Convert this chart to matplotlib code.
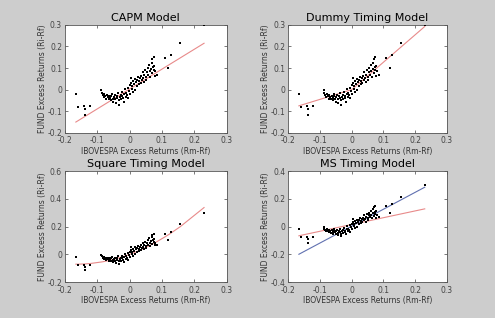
import numpy as np
import matplotlib.pyplot as plt

# market excess returns (Rm-Rf) and fund excess returns (Ri-Rf)
rm = [-0.166, -0.160, -0.140, -0.138, -0.137, -0.121, 0.230, 0.156, 0.127, 0.109,
      0.120, 0.075, 0.070,
      -0.087, -0.086, -0.083, -0.080, -0.078, -0.075, -0.072, -0.070, -0.068, -0.065,
      -0.063, -0.060, -0.058, -0.056, -0.054, -0.052, -0.050, -0.048, -0.046, -0.044,
      -0.042, -0.040, -0.038, -0.036, -0.034, -0.032, -0.030, -0.028, -0.026, -0.024,
      -0.022, -0.020, -0.018, -0.016, -0.014, -0.012, -0.010, -0.008, -0.006, -0.004,
      -0.002, 0.000, 0.002, 0.004, 0.006, 0.008, 0.010, 0.012, 0.014, 0.016, 0.018,
      0.020, 0.022, 0.024, 0.026, 0.028, 0.030, 0.032, 0.034, 0.036, 0.038, 0.040,
      0.042, 0.044, 0.046, 0.048, 0.050, 0.052, 0.054, 0.056, 0.058, 0.060, 0.062,
      0.064, 0.066, 0.068, 0.070, 0.072, 0.074, 0.076, 0.078, 0.080, 0.085, 0.004]
ri = [-0.020, -0.078, -0.074, -0.090, -0.115, -0.074, 0.297, 0.215, 0.160, 0.145,
      0.100, 0.150, 0.140,
      -0.003, -0.015, -0.025, -0.035, -0.020, -0.030, -0.042, -0.025, -0.035, -0.045,
      -0.028, -0.038, -0.050, -0.030, -0.020, -0.042, -0.055, -0.035, -0.025, -0.045,
      -0.060, -0.030, -0.040, -0.015, -0.070, -0.050, -0.035, -0.025, -0.045, -0.010,
      -0.030, -0.040, -0.055, -0.020, 0.005, -0.035, -0.015, -0.025, 0.010, -0.040,
      -0.005, 0.020, -0.020, 0.030, 0.005, 0.015, -0.010, 0.040, 0.025, 0.000, 0.050,
      0.035, 0.015, 0.045, 0.060, 0.025, 0.040, 0.055, 0.030, 0.065, 0.045, 0.080,
      0.055, 0.035, 0.070, 0.090, 0.060, 0.045, 0.080, 0.100, 0.070, 0.115, 0.085,
      0.060, 0.095, 0.125, 0.075, 0.105, 0.090, 0.110, 0.065, 0.085, 0.070, 0.053]

titles = ['CAPM Model', 'Dummy Timing Model', 'Square Timing Model', 'MS Timing Model']
ylims = [(-0.2, 0.3), (-0.2, 0.3), (-0.2, 0.6), (-0.4, 0.4)]
yticks = [[-0.2, -0.1, 0, 0.1, 0.2, 0.3], [-0.2, -0.1, 0, 0.1, 0.2, 0.3],
          [-0.2, 0, 0.2, 0.4, 0.6], [-0.4, -0.2, 0, 0.2, 0.4]]
xticks = [-0.2, -0.1, 0, 0.1, 0.2, 0.3]

# fitted coefficients
capm = (0.003, 0.92)
dummy = (0.0, 0.45, 0.82)
square = (0.0, 0.863, 2.62)
ms_low = (0.015, 0.49)
ms_high = (0.003, 1.22)

x = np.sort(np.array(rm))
bg = '#cdcdcd'
fig = plt.figure(figsize=(4.95, 3.18), dpi=100, facecolor=bg)
pos = [[0.131, 0.582, 0.327, 0.340], [0.582, 0.582, 0.321, 0.340],
       [0.131, 0.113, 0.327, 0.349], [0.582, 0.113, 0.321, 0.349]]

pink = '#e88a8a'
for i in range(4):
    ax = fig.add_axes(pos[i])
    ax.scatter(rm, ri, s=4, c='black', marker='s', linewidths=0, zorder=3)
    if i == 0:
        ax.plot(x, capm[0] + capm[1] * x, color=pink, lw=0.8)
    elif i == 1:
        ax.plot(x, dummy[0] + dummy[1] * x + dummy[2] * x * (x > 0), color=pink, lw=0.8)
    elif i == 2:
        ax.plot(x, square[0] + square[1] * x + square[2] * x ** 2, color=pink, lw=0.8)
    else:
        ax.plot(x, ms_low[0] + ms_low[1] * x, color=pink, lw=0.8)
        ax.plot(x, ms_high[0] + ms_high[1] * x, color='#6070b0', lw=0.8)
    ax.set_xlim(-0.2, 0.3)
    ax.set_ylim(*ylims[i])
    ax.set_xticks(xticks)
    ax.set_yticks(yticks[i])
    ax.set_xticklabels(['%g' % t for t in xticks])
    ax.set_yticklabels(['%g' % t for t in yticks[i]])
    ax.tick_params(direction='in', top=True, right=True, labelsize=5.5,
                   length=2, width=0.5, colors='#444444')
    ax.tick_params(axis='x', pad=2.5)
    ax.tick_params(axis='y', pad=2)
    for s in ax.spines.values():
        s.set_linewidth(0.6)
        s.set_color('#555555')
    ax.set_title(titles[i], fontsize=8, pad=3)
    ax.set_xlabel('IBOVESPA Excess Returns (Rm-Rf)', fontsize=5.5, color='#333333', labelpad=1)
    ax.set_ylabel('FUND Excess Returns (Ri-Rf)', fontsize=5.5, color='#333333', labelpad=0.5)

fig.savefig('out.png', dpi=100, facecolor=bg)
